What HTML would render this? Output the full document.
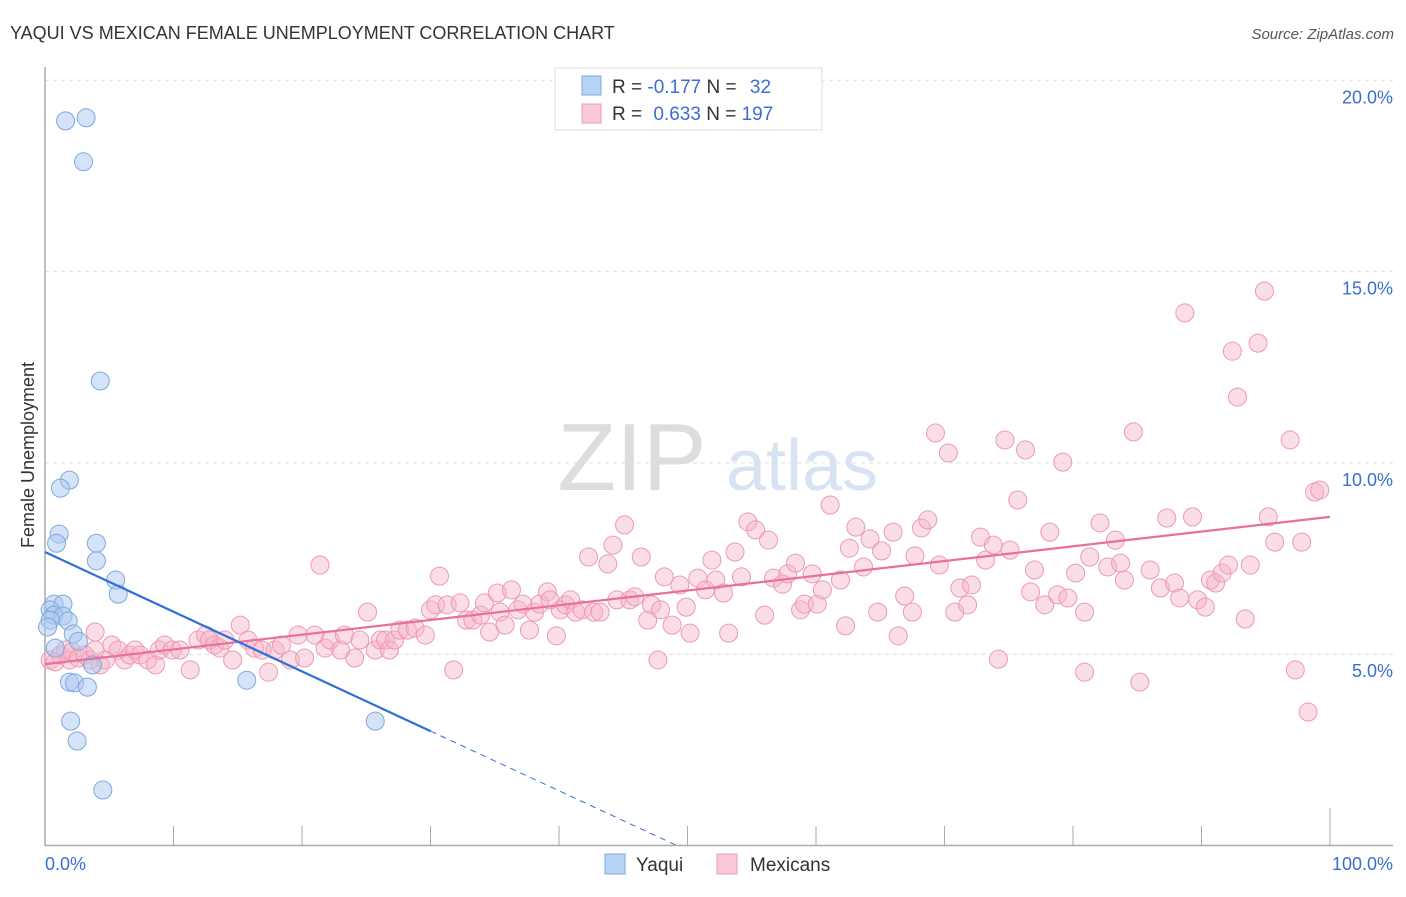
<!DOCTYPE html>
<html><head><meta charset="utf-8"><style>
body{margin:0;background:#fff;font-family:"Liberation Sans",sans-serif;}
svg text{font-family:"Liberation Sans",sans-serif;}
</style></head><body>
<svg id="chart" width="1406" height="892" viewBox="0 0 1406 892" xmlns="http://www.w3.org/2000/svg">
<text x="10" y="39" font-size="18" fill="#333">YAQUI VS MEXICAN FEMALE UNEMPLOYMENT CORRELATION CHART</text>
<text x="1394" y="39" font-size="15" fill="#555" text-anchor="end" font-style="italic">Source: ZipAtlas.com</text>
<g>
<text x="632" y="490" font-size="96" fill="#ddd" text-anchor="middle" font-family="Liberation Serif, serif">ZIP</text>
<text x="802" y="490" font-size="72" fill="#d7e3f3" text-anchor="middle">atlas</text>
</g>
<g id="grid"></g>
<g id="axes"></g>
<g id="marks"></g>
<text transform="translate(34,455) rotate(-90)" font-size="18" fill="#333" text-anchor="middle">Female Unemployment</text>
<g>
<rect x="555" y="68" width="267" height="62" fill="#fff" stroke="#ddd"/>
<rect x="582" y="76" width="19" height="19" fill="#b9d3f5" stroke="#7fa8e0"/>
<rect x="582" y="104" width="19" height="19" fill="#f9c9d8" stroke="#eb9ab5"/>
<text x="612" y="93" font-size="19" fill="#333">R = <tspan fill="#3a6fd1">-0.177</tspan>   N = <tspan fill="#3a6fd1" dx="8">32</tspan></text>
<text x="612" y="120" font-size="19" fill="#333">R = <tspan fill="#3a6fd1" dx="6">0.633</tspan>   N = <tspan fill="#3a6fd1">197</tspan></text>
</g>
<g>
<rect x="605" y="854" width="20" height="20" fill="#b9d3f5" stroke="#7fa8e0"/>
<text x="636" y="871" font-size="19" fill="#333">Yaqui</text>
<rect x="717" y="854" width="20" height="20" fill="#f9c9d8" stroke="#eb9ab5"/>
<text x="750" y="871" font-size="19" fill="#333">Mexicans</text>
</g>
</svg>
<script>
const yTicks=[5,10,15,20];
const xTickLabels=["0.0%","100.0%"];
const yaquiX=[1.6,3.2,3.0,4.3,1.9,1.2,1.1,0.9,4.0,4.0,5.5,5.7,0.7,1.4,0.4,0.7,1.4,1.8,0.4,0.2,2.2,2.6,0.8,3.7,1.9,2.3,3.3,15.7,2.0,2.5,4.5,25.7];
const yaquiY=[18.94,19.02,17.87,12.14,9.55,9.34,8.14,7.9,7.9,7.44,6.94,6.57,6.31,6.31,6.16,6.02,6.0,5.87,5.89,5.71,5.53,5.34,5.16,4.72,4.27,4.25,4.14,4.32,3.25,2.73,1.45,3.25];
const mexX=[0.4,0.8,1.2,1.6,1.9,2.1,2.6,3.1,3.5,3.9,4.3,4.7,3.9,5.2,5.7,6.2,6.6,7.0,7.4,8.0,8.6,8.9,9.3,9.9,10.5,11.3,11.9,12.5,12.8,13.2,13.6,14.0,14.6,15.2,15.8,16.3,16.9,17.4,17.9,18.4,19.1,19.7,20.2,21.0,21.4,21.8,22.2,23.0,23.3,24.1,24.5,25.1,25.7,26.1,26.5,26.8,27.2,27.6,28.2,28.8,29.6,30.0,30.4,30.7,31.3,31.8,32.3,32.8,33.3,33.9,34.2,34.6,35.2,35.4,35.8,36.3,36.8,37.2,37.7,38.1,38.5,39.1,39.3,39.8,40.1,40.5,40.9,41.3,41.8,42.3,42.7,43.2,43.8,44.2,44.5,45.1,45.5,45.9,46.4,46.9,47.2,47.7,47.9,48.2,48.8,49.4,49.9,50.2,50.8,51.4,51.9,52.2,52.8,53.2,53.7,54.2,54.7,55.3,56.0,56.3,56.7,57.4,57.8,58.4,58.8,59.1,59.7,60.1,60.5,61.1,61.9,62.3,62.6,63.1,63.7,64.2,64.8,65.1,66.0,66.4,66.9,67.5,67.7,68.2,68.7,69.3,69.6,70.3,70.8,71.2,71.8,72.1,72.8,73.2,73.8,74.2,74.7,75.1,75.7,76.3,76.7,77.0,77.8,78.2,78.8,79.2,79.6,80.2,80.9,80.9,81.3,82.1,82.7,83.3,83.7,84.0,84.7,85.2,86.0,86.8,87.3,87.9,88.3,88.7,89.3,89.7,90.3,90.7,91.1,91.6,92.1,92.4,92.8,93.4,93.8,94.4,94.9,95.2,95.7,96.9,97.3,97.8,98.3,98.8,99.2];
const mexY=[4.85,4.8,4.98,5.11,4.85,5.06,4.9,4.98,4.85,5.11,4.72,4.85,5.58,5.24,5.11,4.85,4.98,5.11,4.98,4.85,4.72,5.11,5.24,5.11,5.11,4.59,5.37,5.5,5.37,5.24,5.16,5.37,4.85,5.76,5.37,5.16,5.11,4.53,5.11,5.24,4.85,5.5,4.9,5.5,7.33,5.16,5.37,5.11,5.5,4.9,5.37,6.1,5.11,5.37,5.37,5.11,5.37,5.63,5.63,5.68,5.5,6.16,6.29,7.04,6.29,4.59,6.34,5.89,5.89,6.02,6.34,5.58,6.6,6.1,5.76,6.68,6.16,6.31,5.63,6.1,6.31,6.63,6.42,5.48,6.16,6.29,6.42,6.1,6.16,7.54,6.1,6.1,7.36,7.85,6.42,8.38,6.42,6.5,7.54,5.89,6.29,4.85,6.16,7.02,5.76,6.81,6.23,5.55,6.99,6.68,7.46,6.94,6.6,5.55,7.67,7.02,8.46,8.25,6.02,7.98,6.99,6.83,7.1,7.38,6.16,6.31,7.1,6.31,6.68,8.9,6.94,5.74,7.77,8.32,7.28,8.01,6.1,7.7,8.19,5.48,6.52,6.1,7.57,8.3,8.51,10.78,7.33,10.26,6.1,6.73,6.29,6.81,8.06,7.46,7.85,4.87,10.6,7.72,9.03,10.34,6.63,7.2,6.29,8.19,6.55,10.02,6.47,7.12,6.1,4.53,7.54,8.43,7.28,7.98,7.38,6.94,10.81,4.27,7.2,6.73,8.56,6.86,6.47,13.92,8.59,6.42,6.23,6.94,6.86,7.12,7.33,12.92,11.72,5.92,7.33,13.13,14.49,8.59,7.93,10.6,4.59,7.93,3.49,9.24,9.29];
const yaquiTrend=[7.67,2.99];
const mexTrend=[4.74,8.59];

const NS="http://www.w3.org/2000/svg";
const X=v=>45+v*12.85;
const Y=v=>845.5-v*38.26;
function mk(tag,attrs,parent){const e=document.createElementNS(NS,tag);for(const k in attrs)e.setAttribute(k,attrs[k]);parent.appendChild(e);return e;}
const grid=document.getElementById('grid'),axes=document.getElementById('axes'),marks=document.getElementById('marks');
yTicks.forEach(t=>{
  const l=mk('line',{x1:45,x2:1393,y1:Y(t),y2:Y(t),stroke:'#ddd','stroke-dasharray':'4,4'},grid);
  
  
  const tx=mk('text',{x:1393,y:Y(t)+23,'font-size':18,fill:'#3a6fd1','text-anchor':'end'},axes);
  tx.textContent=t.toFixed(1)+'%';
  
  
});
const ya=mk('line',{x1:45,x2:45,y1:67,y2:846,stroke:'#aaa','stroke-width':1.5},axes);


const xa=mk('line',{x1:45,x2:1393,y1:845.5,y2:845.5,stroke:'#aaa','stroke-width':1.5},axes);


for(let i=1;i<=10;i++){
  const t=mk('line',{x1:X(i*10),x2:X(i*10),y1:i==10?808:826,y2:845,stroke:'#aaa'},axes);
  
  
}
const xl0=mk('text',{x:45,y:870,'font-size':18,fill:'#3a6fd1'},axes);
xl0.textContent=xTickLabels[0];


const xl1=mk('text',{x:1393,y:870,'font-size':18,fill:'#3a6fd1','text-anchor':'end'},axes);
xl1.textContent=xTickLabels[1];



mexX.forEach((x,i)=>{
  const c=mk('circle',{cx:X(x),cy:Y(mexY[i]),r:9,fill:'rgba(246,180,200,0.45)',stroke:'#eb9ab5','stroke-width':1},marks);
  
  
});
yaquiX.forEach((x,i)=>{
  const c=mk('circle',{cx:X(x),cy:Y(yaquiY[i]),r:9,fill:'rgba(170,200,240,0.5)',stroke:'#7fa8e0','stroke-width':1},marks);
  
  
});
const mt=mk('line',{x1:X(0),y1:Y(mexTrend[0]),x2:X(100),y2:Y(mexTrend[1]),stroke:'#e8709a','stroke-width':2.2},marks);


const slope=(yaquiTrend[1]-yaquiTrend[0])/30;
const yt=mk('line',{x1:X(0),y1:Y(yaquiTrend[0]),x2:X(30),y2:Y(yaquiTrend[1]),stroke:'#2f6fd6','stroke-width':2.2},marks);


const xEnd=-yaquiTrend[0]/slope;
const yd=mk('line',{x1:X(30),y1:Y(yaquiTrend[1]),x2:X(xEnd),y2:Y(0),stroke:'#2f6fd6','stroke-width':1,'stroke-dasharray':'6,5'},marks);


</script>
</body></html>
